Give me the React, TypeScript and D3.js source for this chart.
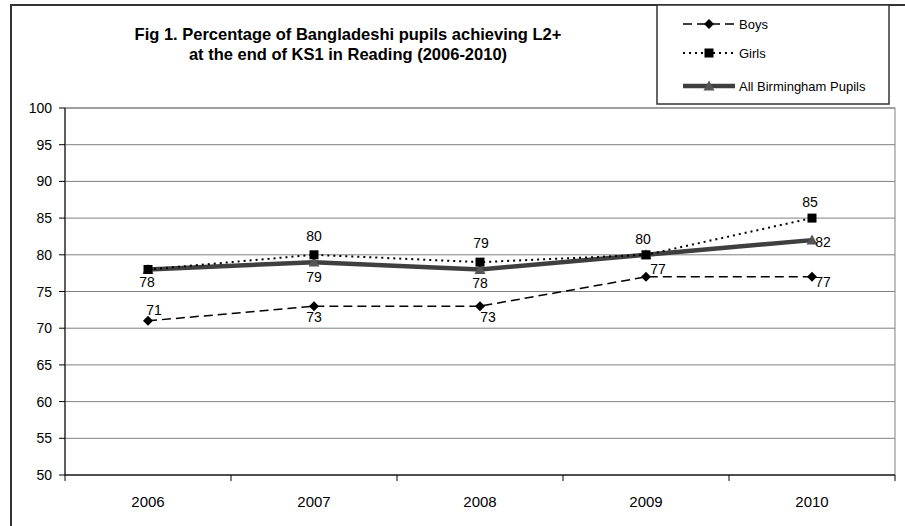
import React from "react";
import * as d3 from "d3";

const years = ["2006", "2007", "2008", "2009", "2010"];
const boys = [71, 73, 73, 77, 77];
const girls = [78, 80, 79, 80, 85];
const allPupils = [78, 79, 78, 80, 82];
const yTicks = [50, 55, 60, 65, 70, 75, 80, 85, 90, 95, 100];
const titleLines = [
  "Fig 1. Percentage of Bangladeshi pupils achieving L2+",
  "at the end of KS1 in Reading (2006-2010)",
];
const legendNames = ["Boys", "Girls", "All Birmingham Pupils"];

// label placement offsets (dx, dy of label centre from point) – layout only
const boysLabelPos = [[6, -11], [0, 11], [8, 11], [12, -8], [11, 5]];
const girlsLabelPos = [null, [0, -19], [1, -19], [-3, -16], [-2, -16]];
const allLabelPos = [[-1, 13], [0, 15], [0, 13.5], null, [11, 2]];

const W = 905;
const H = 526;
const font = "'Liberation Sans', Arial, sans-serif";

export default function App() {
  const left = 65, right = 895, top = 108, bottom = 475;
  const x = d3.scaleBand().domain(years).range([left, right]);
  const y = d3.scaleLinear().domain([50, 100]).range([bottom, top]);
  const cx = (yr: string) => (x(yr) as number) + x.bandwidth() / 2;
  const line = d3
    .line<number>()
    .x((_, i) => cx(years[i]))
    .y((v) => y(v));

  const diamond = (px: number, py: number, s = 5) =>
    `M${px},${py - s}L${px + s},${py}L${px},${py + s}L${px - s},${py}Z`;
  const tri = (px: number, py: number, s = 5.5) =>
    `M${px},${py - s}L${px + s},${py + s * 0.8}L${px - s},${py + s * 0.8}Z`;

  const tickStyle = { fontFamily: font, fontSize: 14, fill: "#000" } as const;
  const dataStyle = { fontFamily: font, fontSize: 14, fill: "#000" } as const;
  const xStyle = { fontFamily: font, fontSize: 15, fill: "#000" } as const;
  const legStyle = { fontFamily: font, fontSize: 13, fill: "#000" } as const;

  const labels: { key: string; x: number; y: number; v: number }[] = [];
  boys.forEach((v, i) => {
    const p = boysLabelPos[i];
    labels.push({ key: "b" + i, x: cx(years[i]) + p[0], y: y(v) + p[1], v });
  });
  girls.forEach((v, i) => {
    const p = girlsLabelPos[i];
    if (p) labels.push({ key: "g" + i, x: cx(years[i]) + p[0], y: y(v) + p[1], v });
  });
  allPupils.forEach((v, i) => {
    const p = allLabelPos[i];
    if (p) labels.push({ key: "a" + i, x: cx(years[i]) + p[0], y: y(v) + p[1], v });
  });

  return (
    <svg width={W} height={H} style={{ position: "absolute", left: 0, top: 0 }}>
      <rect x={0} y={0} width={W} height={H} fill="#fff" />
      {/* outer border */}
      <path d={`M11,${H}V5H${W}`} fill="none" stroke="#333" strokeWidth={2} />
      {/* title */}
      {titleLines.map((t, i) => (
        <text
          key={i}
          x={348}
          y={40 + i * 20}
          textAnchor="middle"
          style={{ fontFamily: font, fontSize: 16.5, fontWeight: "bold" }}
        >
          {t}
        </text>
      ))}
      {/* gridlines */}
      {yTicks.map((t) => (
        <line key={t} x1={left} x2={right} y1={y(t)} y2={y(t)} stroke="#808080" strokeWidth={1} />
      ))}
      {/* plot area border */}
      <rect x={left} y={top} width={right - left} height={bottom - top} fill="none" stroke="#808080" strokeWidth={1} />
      {/* axes */}
      <line x1={left} x2={left} y1={top} y2={bottom} stroke="#000" strokeWidth={1} />
      <line x1={left} x2={right} y1={bottom} y2={bottom} stroke="#000" strokeWidth={1} />
      {yTicks.map((t) => (
        <g key={t}>
          <line x1={left - 6} x2={left} y1={y(t)} y2={y(t)} stroke="#000" />
          <text x={52} y={y(t) + 5} textAnchor="end" style={tickStyle}>
            {t}
          </text>
        </g>
      ))}
      {years.map((yr, i) => (
        <g key={yr}>
          <line x1={x(yr)} x2={x(yr)} y1={bottom} y2={bottom + 6} stroke="#000" />
          {i === years.length - 1 && (
            <line x1={right} x2={right} y1={bottom} y2={bottom + 6} stroke="#000" />
          )}
          <text x={cx(yr)} y={507} textAnchor="middle" style={xStyle}>
            {yr}
          </text>
        </g>
      ))}
      {/* series: All Birmingham */}
      <path d={line(allPupils) || ""} fill="none" stroke="#3f3f3f" strokeWidth={4.5} />
      {allPupils.map((v, i) => (
        <path key={i} d={tri(cx(years[i]), y(v))} fill="#555" />
      ))}
      {/* Girls */}
      <path d={line(girls) || ""} fill="none" stroke="#000" strokeWidth={2} strokeDasharray="2,4" />
      {girls.map((v, i) => (
        <rect key={i} x={cx(years[i]) - 4.5} y={y(v) - 4.5} width={9} height={9} fill="#000" />
      ))}
      {/* Boys */}
      <path d={line(boys) || ""} fill="none" stroke="#000" strokeWidth={1.5} strokeDasharray="9,5" />
      {boys.map((v, i) => (
        <path key={i} d={diamond(cx(years[i]), y(v))} fill="#000" />
      ))}
      {/* data labels */}
      {labels.map((l) => (
        <text key={l.key} x={l.x} y={l.y + 5} textAnchor="middle" style={dataStyle}>
          {l.v}
        </text>
      ))}
      {/* legend */}
      <rect x={657} y={5} width={232} height={99} fill="#fff" stroke="#333" strokeWidth={1.5} />
      {legendNames.map((name, i) => {
        const ly = [24, 53, 86][i];
        return (
          <g key={name}>
            {i === 0 && (
              <>
                <line x1={683} x2={735} y1={ly} y2={ly} stroke="#000" strokeWidth={1.5} strokeDasharray="9,5" />
                <path d={diamond(709, ly)} fill="#000" />
              </>
            )}
            {i === 1 && (
              <>
                <line x1={683} x2={735} y1={ly} y2={ly} stroke="#000" strokeWidth={2} strokeDasharray="2,4" />
                <rect x={704.5} y={ly - 4.5} width={9} height={9} fill="#000" />
              </>
            )}
            {i === 2 && (
              <>
                <line x1={683} x2={735} y1={ly} y2={ly} stroke="#3f3f3f" strokeWidth={4.5} />
                <path d={tri(709, ly)} fill="#555" />
              </>
            )}
            <text x={739} y={ly + 5} style={legStyle}>
              {name}
            </text>
          </g>
        );
      })}
    </svg>
  );
}
